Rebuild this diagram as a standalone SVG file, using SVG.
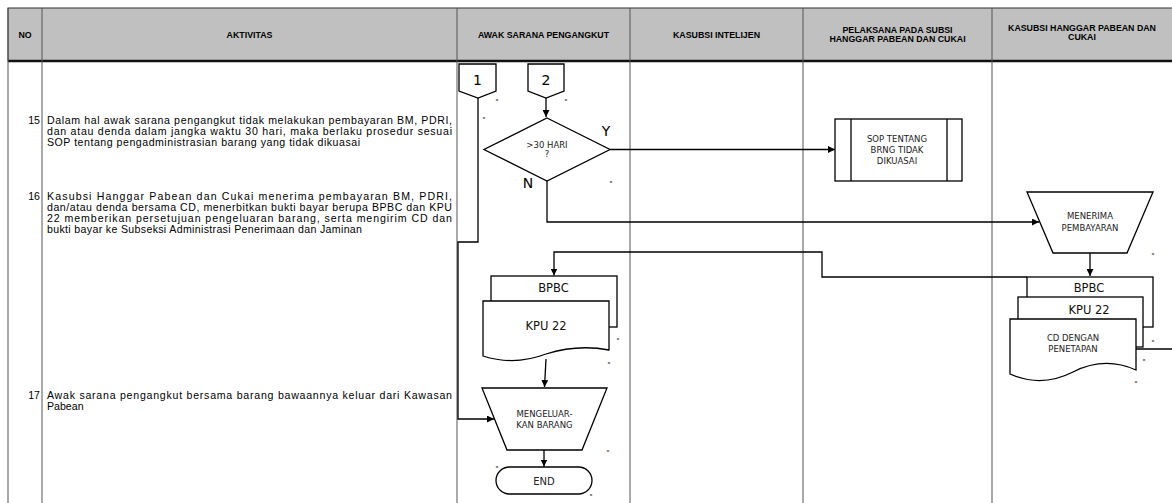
<svg xmlns="http://www.w3.org/2000/svg" width="1172" height="503" viewBox="0 0 1172 503">
<style>
.hd{font-family:"Liberation Sans",Arial,sans-serif;font-weight:bold;font-size:8.8px;fill:#000;text-anchor:middle}
.tx{font-family:"Liberation Sans",Arial,sans-serif;font-size:10.6px;fill:#000}
.no{font-family:"Liberation Sans",Arial,sans-serif;font-size:10.6px;fill:#000;text-anchor:end}
.lb{font-family:"DejaVu Sans",sans-serif;font-size:8.5px;fill:#222;text-anchor:middle}
.big{font-family:"DejaVu Sans",sans-serif;font-size:11.5px;fill:#111;text-anchor:middle}
.yn{font-family:"DejaVu Sans",sans-serif;font-size:14px;fill:#000;text-anchor:middle}
.dot{font-family:"DejaVu Sans",sans-serif;font-size:7px;font-weight:bold;fill:#000;text-anchor:middle}
.sh{fill:#fff;stroke:#000;stroke-width:1.3}
.cn{fill:none;stroke:#000;stroke-width:1.3}
.grid{stroke:#555;stroke-width:1;fill:none}
</style>
<defs>
<marker id="ah" viewBox="0 0 10 10" refX="10" refY="5" markerWidth="7" markerHeight="7" markerUnits="userSpaceOnUse" orient="auto">
<path d="M0,0 L10,5 L0,10 Z" fill="#000"/>
</marker>
</defs>
<rect width="1172" height="503" fill="#fff"/>
<g id="table">
<rect x="8" y="8" width="1170" height="53" fill="#c0c0c0" stroke="#333" stroke-width="1"/>
<line x1="8" y1="61" x2="1172" y2="61" stroke="#111" stroke-width="2.5"/>
<line class="grid" x1="8" y1="8" x2="8" y2="503"/>
<line class="grid" x1="42" y1="8" x2="42" y2="503"/>
<line class="grid" x1="457" y1="8" x2="457" y2="503"/>
<line class="grid" x1="630" y1="8" x2="630" y2="503"/>
<line class="grid" x1="803" y1="8" x2="803" y2="503"/>
<line class="grid" x1="992" y1="8" x2="992" y2="503"/>
<text class="hd" x="25" y="38">NO</text>
<text class="hd" x="249.5" y="38">AKTIVITAS</text>
<text class="hd" x="543.5" y="38">AWAK SARANA PENGANGKUT</text>
<text class="hd" x="716.5" y="38">KASUBSI INTELIJEN</text>
<text class="hd" x="897.5" y="33">PELAKSANA PADA SUBSI</text>
<text class="hd" x="897.5" y="42">HANGGAR PABEAN DAN CUKAI</text>
<text class="hd" x="1082" y="31">KASUBSI HANGGAR PABEAN DAN</text>
<text class="hd" x="1082" y="40">CUKAI</text>
</g>
<g id="activities">
<text class="no" x="40" y="123.5">15</text>
<text class="tx" x="47" y="123.5" textLength="405" lengthAdjust="spacing">Dalam hal awak sarana pengangkut tidak melakukan pembayaran BM, PDRI,</text>
<text class="tx" x="47" y="134.5" textLength="405" lengthAdjust="spacing">dan atau denda dalam jangka waktu 30 hari, maka berlaku prosedur sesuai</text>
<text class="tx" x="47" y="145.5" textLength="313" lengthAdjust="spacing">SOP tentang pengadministrasian barang yang tidak dikuasai</text>
<text class="no" x="40" y="199.5">16</text>
<text class="tx" x="47" y="199.5" textLength="405" lengthAdjust="spacing">Kasubsi Hanggar Pabean dan Cukai menerima pembayaran BM, PDRI,</text>
<text class="tx" x="47" y="210.5" textLength="405" lengthAdjust="spacing">dan/atau denda bersama CD, menerbitkan bukti bayar berupa BPBC dan KPU</text>
<text class="tx" x="47" y="221.5" textLength="405" lengthAdjust="spacing">22 memberikan persetujuan pengeluaran barang, serta mengirim CD dan</text>
<text class="tx" x="47" y="232.5" textLength="315" lengthAdjust="spacing">bukti bayar ke Subseksi Administrasi Penerimaan dan Jaminan</text>
<text class="no" x="40" y="398.5">17</text>
<text class="tx" x="47" y="398.5" textLength="405" lengthAdjust="spacing">Awak sarana pengangkut bersama barang bawaannya keluar dari Kawasan</text>
<text class="tx" x="47" y="409.5">Pabean</text>
</g>
<g id="connectors">
<path class="cn" d="M546,98 V117" marker-end="url(#ah)"/>
<path class="cn" d="M610,149.5 H835" marker-end="url(#ah)"/>
<path class="cn" d="M547,181 V222 H1039" marker-end="url(#ah)"/>
<path class="cn" d="M1090,253 V276" marker-end="url(#ah)"/>
<path class="cn" d="M1027,277 H822 V252 H554 V275.5" marker-end="url(#ah)"/>
<path class="cn" d="M546,359 L544.5,387" marker-end="url(#ah)"/>
<path class="cn" d="M544,450 V466.5" marker-end="url(#ah)"/>
<path class="cn" d="M478,98 V242 H458 V419 H494" marker-end="url(#ah)"/>
<path class="cn" d="M1136,349 H1172"/>
</g>
<g id="conn1">
<path class="sh" d="M459,64 H496 V91 L478,98 L459,91 Z"/>
<text class="yn" x="477.5" y="85">1</text>
</g>
<g id="conn2">
<path class="sh" d="M528,64 H564 V91 L546,98 L528,91 Z"/>
<text class="yn" x="546" y="85">2</text>
</g>
<g id="decision">
<path class="sh" d="M547,118 L610,149.5 L547,181 L484,149.5 Z"/>
<text class="lb" x="547" y="148">&gt;30 HARI</text>
<text class="lb" x="547" y="157">?</text>
<text class="yn" x="606" y="136">Y</text>
<text class="yn" x="528" y="188">N</text>
</g>
<g id="sop">
<rect class="sh" x="835" y="119" width="127" height="62"/>
<line class="cn" x1="851" y1="119" x2="851" y2="181"/>
<line class="cn" x1="947" y1="119" x2="947" y2="181"/>
<text class="lb" x="897" y="142">SOP TENTANG</text>
<text class="lb" x="897" y="153">BRNG TIDAK</text>
<text class="lb" x="897" y="164">DIKUASAI</text>
</g>
<g id="menerima">
<path class="sh" d="M1027,192 H1153 L1127,253 H1053 Z"/>
<text class="lb" x="1090" y="219">MENERIMA</text>
<text class="lb" x="1090" y="231">PEMBAYARAN</text>
</g>
<g id="docs-right">
<rect class="sh" x="1027" y="277" width="126" height="50"/>
<text class="big" x="1089" y="292">BPBC</text>
<rect class="sh" x="1018" y="297" width="125" height="50"/>
<text class="big" x="1089" y="314">KPU 22</text>
<path class="sh" d="M1010,319 H1136 V370 Q1104.5,356 1073,372 Q1041.5,388 1010,374 Z"/>
<text class="lb" x="1073" y="341">CD DENGAN</text>
<text class="lb" x="1073" y="352">PENETAPAN</text>
</g>
<g id="docs-left">
<rect class="sh" x="491" y="276" width="126" height="51"/>
<text class="big" x="553.5" y="292">BPBC</text>
<path class="sh" d="M483,301 H609 V350 Q577.5,344 546,354 Q514.5,366 483,356 Z"/>
<text class="big" x="546" y="330">KPU 22</text>
</g>
<g id="mengeluarkan">
<path class="sh" d="M482,388 H607 L582,450 H507 Z"/>
<text class="lb" x="544.5" y="417">MENGELUAR-</text>
<text class="lb" x="544.5" y="428">KAN BARANG</text>
</g>
<g id="end">
<rect class="sh" x="496" y="467" width="96" height="27" rx="13.5" ry="13.5"/>
<text class="lb" x="544" y="484.5" style="font-size:10px">END</text>
</g>
<g id="marks">
<text class="dot" x="497" y="102">-</text>
<text class="dot" x="566" y="102">-</text>
<text class="dot" x="484" y="120">-</text>
<text class="dot" x="611" y="184">-</text>
<text class="dot" x="1153" y="256">-</text>
<text class="dot" x="618" y="341">-</text>
<text class="dot" x="609" y="365">-</text>
<text class="dot" x="1153" y="343">-</text>
<text class="dot" x="1144" y="362">-</text>
<text class="dot" x="1136" y="384">-</text>
<text class="dot" x="608" y="453">-</text>
<text class="dot" x="497" y="469">-</text>
<text class="dot" x="591" y="497">-</text>
</g>
</svg>
